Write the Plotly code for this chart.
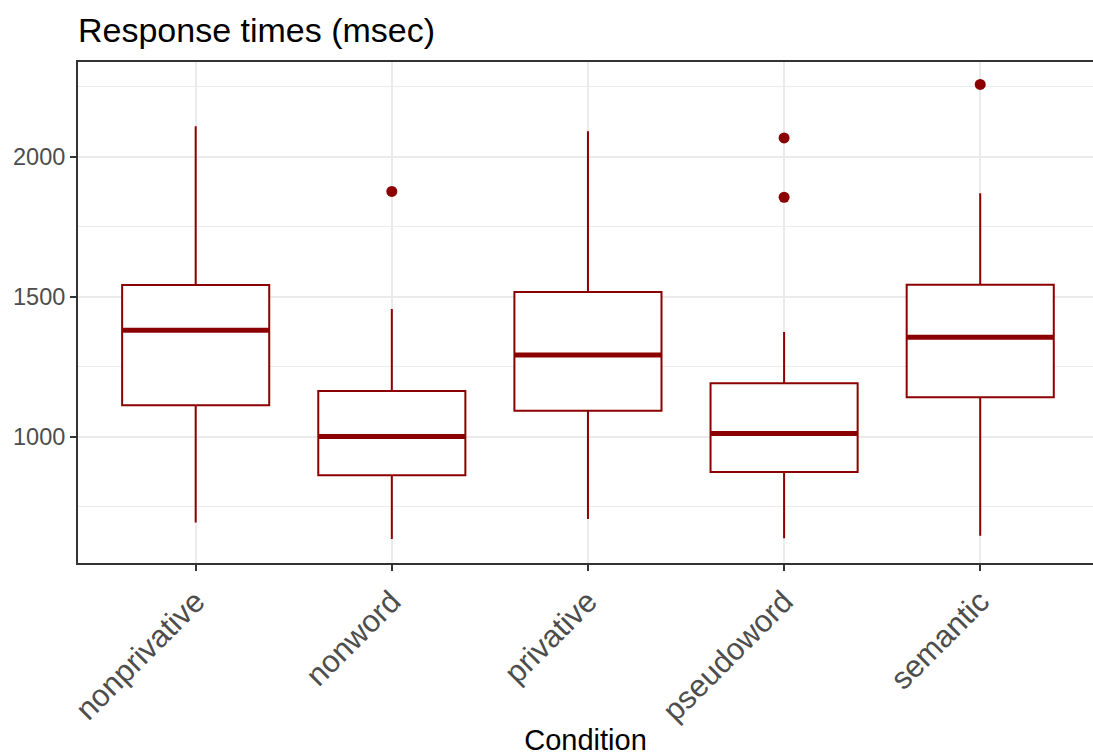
import plotly.graph_objects as go

# Response-time summary per condition (msec)
conditions = ["nonprivative", "nonword", "privative", "pseudoword", "semantic"]
lower_whisker = [695, 636, 707, 638, 647]
q1 = [1113, 863, 1094, 875, 1142]
median = [1381, 1002, 1293, 1012, 1356]
q3 = [1543, 1164, 1518, 1192, 1544]
upper_whisker = [2110, 1457, 2092, 1375, 1870]

outlier_condition = ["nonword", "pseudoword", "pseudoword", "semantic"]
outlier_value = [1877, 2068, 1856, 2259]

y_major = [1000, 1500, 2000]
y_minor = [750, 1250, 1750, 2250]

RED = "#8B0000"
BOX_WIDTH = 0.75
FONT = "Liberation Sans, Arial, sans-serif"
pos = list(range(len(conditions)))

fig = go.Figure()

fig.add_trace(go.Box(
    x=pos,
    q1=q1, median=median, q3=q3,
    lowerfence=lower_whisker, upperfence=upper_whisker,
    width=BOX_WIDTH, whiskerwidth=0,
    line=dict(color=RED, width=2),
    fillcolor="white",
    boxpoints=False,
    showlegend=False,
    hoverinfo="skip",
))

# thicker median bars, as in a ggplot boxplot
mx, my = [], []
for i, m in zip(pos, median):
    mx += [i - BOX_WIDTH / 2, i + BOX_WIDTH / 2, None]
    my += [m, m, None]
fig.add_trace(go.Scatter(
    x=mx, y=my, mode="lines",
    line=dict(color=RED, width=5),
    showlegend=False, hoverinfo="skip",
))

fig.add_trace(go.Scatter(
    x=[conditions.index(c) for c in outlier_condition],
    y=outlier_value,
    mode="markers",
    marker=dict(color=RED, size=11),
    showlegend=False, hoverinfo="skip",
))

fig.update_layout(
    width=1093, height=756,
    margin=dict(l=78, r=0, t=62, b=193),
    paper_bgcolor="white",
    plot_bgcolor="white",
    font=dict(family=FONT, color="black"),
    title=dict(
        text="Response times (msec)",
        font=dict(size=34, color="black"),
        xref="paper", x=0, xanchor="left",
        yref="container", y=1 - 30 / 756, yanchor="middle",
    ),
    xaxis=dict(
        range=[-0.6, 4.575],
        tickmode="array", tickvals=pos, ticktext=conditions,
        tickangle=-45,
        tickfont=dict(family=FONT, size=31, color="#4D4D4D"),
        ticks="outside", ticklen=6, tickwidth=2, tickcolor="#333333",
        showgrid=True, gridcolor="#EBEBEB", gridwidth=2,
        showline=True, linecolor="#333333", linewidth=2, mirror=True,
        zeroline=False,
        title=dict(text="Condition", font=dict(size=29, color="black"), standoff=4),
    ),
    yaxis=dict(
        range=[550, 2339],
        tickmode="array", tickvals=y_major,
        tickfont=dict(family=FONT, size=23.5, color="#4D4D4D"),
        ticks="outside", ticklen=6, tickwidth=2, tickcolor="#333333",
        showgrid=True, gridcolor="#EBEBEB", gridwidth=2,
        minor=dict(tickmode="array", tickvals=y_minor, showgrid=True,
                   gridcolor="#EBEBEB", gridwidth=1, ticks=""),
        showline=True, linecolor="#333333", linewidth=2,
        zeroline=False,
    ),
)

fig.write_html("out.html")
